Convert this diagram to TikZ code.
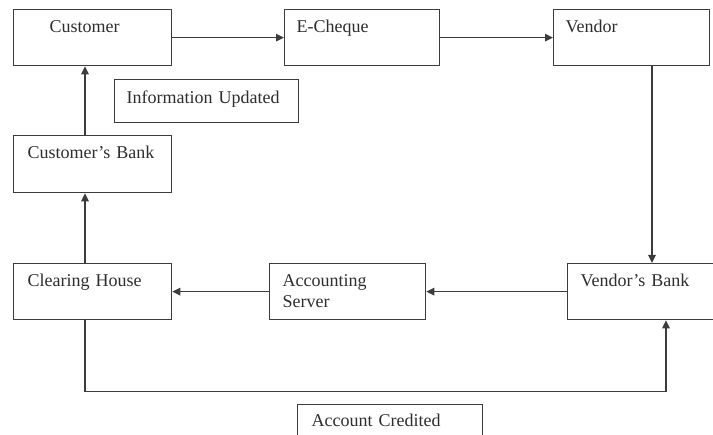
\documentclass[tikz,border=0pt]{standalone}
\usepackage{fontspec}
\setmainfont{Liberation Serif}
\usetikzlibrary{arrows.meta}
\definecolor{linegray}{RGB}{60,60,60}
\definecolor{textgray}{RGB}{45,45,45}
\tikzset{
    box/.style 2 args={draw=linegray, line width=1.3pt, anchor=north west,
        inner ysep=0pt, inner xsep=12pt, text width=#1, align=left,
        text height=23pt, text depth=#2, text=textgray,
        font=\fontsize{18}{21}\selectfont},
    arr/.style={draw=linegray, line width=1.3pt, -{Triangle[length=8pt,width=7.5pt]}}
}
\begin{document}
\begin{tikzpicture}[x=1pt,y=-1pt]
    \useasboundingbox (0,0) rectangle (713,435);
    % top row
    \node [box={86pt}{33pt}, inner xsep=36pt] (cust) at (13,9) {Customer};
    \node [box={131pt}{33pt}] (cheque) at (284,9) {E-Cheque};
    \node [box={132pt}{33pt}] (vendor) at (553,9) {Vendor};
    \node [box={160pt}{19pt}, text height=24pt] (info) at (114,79) {Information Updated};
    % left column
    \node [box={130pt}{34pt}, inner xsep=14pt] (cbank) at (13,135) {Customer's Bank};
    \node [box={130pt}{33pt}, inner xsep=14pt] (clear) at (13,263) {Clearing House};
    % bottom row
    \node [box={130pt}{33pt}, inner xsep=13pt] (acc) at (269,263) {Accounting\\Server};
    \node [box={134pt}{33pt}, inner xsep=13pt] (vbank) at (567,263) {Vendor's Bank};
    \node [box={157pt}{14pt}, inner xsep=14pt, text height=22pt] (cred) at (297,404) {Account Credited};
    % flow
    \draw [arr] (cust.east) -- (cheque.west);
    \draw [arr] (cheque.east) -- (vendor.west);
    \draw [arr] ([xshift=85pt]vbank.north west |- vendor.south) -- ([xshift=85pt]vbank.north west);
    \draw [arr] (vbank.west) -- (acc.east);
    \draw [arr] (acc.west) -- (clear.east);
    \draw [arr] ([xshift=72pt]clear.north west) -- ([xshift=72pt]cbank.south west);
    \draw [arr] ([xshift=72pt]cbank.north west) -- ([xshift=72pt]cust.south west);
    \draw [arr] ([xshift=72pt]clear.south west) -- ++(0,71) -| ([xshift=99pt]vbank.south west);
\end{tikzpicture}
\end{document}
